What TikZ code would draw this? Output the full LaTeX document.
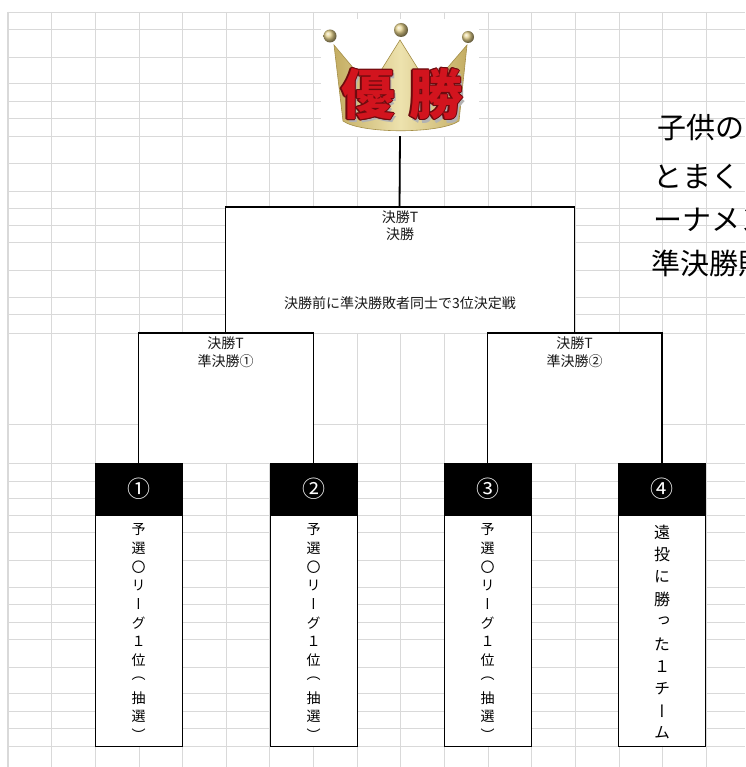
\documentclass[tikz,border=0pt]{standalone}
\usepackage{fontspec}
\newfontfamily\jp{Noto Sans CJK JP}
\newfontfamily\jpv[RawFeature=+vert]{Noto Sans CJK JP}
\usetikzlibrary{calc}
\definecolor{gridgray}{HTML}{D9D9D9}
\definecolor{crownA}{HTML}{C4AD62}
\definecolor{crownB}{HTML}{EDE2AE}
\definecolor{crownC}{HTML}{A58F48}
\definecolor{ballC}{HTML}{E3D08A}
\definecolor{yred}{HTML}{D2141E}
\definecolor{yedge}{HTML}{6E0A0E}
\begin{document}
\begin{tikzpicture}[x=1pt,y=-1pt,
  gridline/.style={draw=gridgray,line width=0.9pt},
  bracket/.style={draw=black,line width=1.8pt},
  bracketbox/.style={rectangle,fill=white,draw=none,inner sep=0pt},
  headbox/.style={rectangle,fill=black,draw=black,line width=0.8pt,minimum width=87pt,minimum height=52pt,inner sep=0pt,text=white,font=\jp\fontsize{23}{23}\selectfont},
  bodybox/.style={rectangle,fill=white,draw=black,line width=1pt,minimum width=87pt,minimum height=231pt,inner sep=0pt,anchor=north},
  lbl/.style={inner sep=0pt,align=center,font=\jp\fontsize{14}{17}\selectfont,text=black!90},
  lbls/.style={inner sep=0pt,align=center,font=\jp\fontsize{14}{18.4}\selectfont,text=black!90},
  vch/.style={inner sep=0pt,font=\jpv\fontsize{14}{14}\selectfont},
  vchb/.style={inner sep=0pt,font=\jpv\fontsize{16}{16}\selectfont},
  side/.style={inner sep=0pt,anchor=west,font=\jp\fontsize{29}{29}\selectfont},
  yu/.style={inner sep=0pt,font=\jp\bfseries\fontsize{54}{54}\selectfont}
]
\useasboundingbox (0,0) rectangle (745,767);
\fill[white] (0,0) rectangle (745,767);
% spreadsheet grid
\foreach \k in {0,...,16} \draw[gridline] ({8+43.65*\k},12) -- ({8+43.65*\k},767);
\foreach \yy in {12,29,57,83,101,118,136,163,191,208,225,242,270,297,314,333,424,463,481,498,515,532,560,587,604,622,639,667,693,711,728,746}
  \draw[gridline] (8,\yy) -- (745,\yy);
\draw[draw=gridgray,line width=1.4pt] (8,12) -- (8,767);
% crown picture
\fill[white] (321,19) rectangle (479,136);
\node[inner sep=0pt,minimum width=158pt,minimum height=117pt] (crown) at (400,77.5) {};
\shade[left color=crownA, right color=crownA, middle color=crownB, draw=crownC, line width=0.6pt]
  (334,45) -- (370,88) -- (400,40) -- (430,88) -- (467,45) -- (459,121)
  .. controls (440,134) and (361,134) .. (343,121) -- cycle;
\shade[ball color=ballC] (330,36) circle (6.5);
\shade[ball color=ballC] (401,30) circle (7);
\shade[ball color=ballC] (468,37) circle (6);
\foreach \cx/\ch [count=\j] in {368/優,436/勝}{
  \node[yu,text=black!30] (ys\j) at (\cx+2.5,97.5) {\ch};
  \foreach \dx/\dy [count=\i] in {-1.1/0,1.1/0,0/-1.1,0/1.1,-.8/-.8,.8/.8,-.8/.8,.8/-.8}
    \node[yu,text=yedge] (yo\j\i) at (\cx+\dx,94+\dy) {\ch};
  \node[yu,text=yred] (yc\j) at (\cx,94) {\ch};
}
% bracket boxes
\node[bracketbox,minimum width=349pt,minimum height=126pt] (f) at (399.5,270) {};
\node[bracketbox,minimum width=175pt,minimum height=130pt] (s1) at (225.5,398) {};
\node[bracketbox,minimum width=175pt,minimum height=130pt] (s2) at (574.5,398) {};
% team boxes
\foreach \n/\cx/\num in {1/138.5/①,2/313.5/②,3/487.5/③,4/662/④}{
  \node[headbox] (h\n) at (\cx,489) {\num};
  \node[bodybox] (b\n) at (h\n.south) {};
}
% connectors
\draw[bracket] (crown.south) -- (f.north);
\draw[bracket] (s1.north) |- (f.north) -| (s2.north);
\draw[bracket] (h1.north) |- (s1.north) -| (h2.north);
\draw[bracket] (h3.north) |- (s2.north) -| (h4.north);
% labels
\node[lbl,anchor=north] (lf) at (400,211) {決勝T\\決勝};
\node[lbl] (lf2) at (400,303) {決勝前に準決勝敗者同士で3位決定戦};
\node[lbls,anchor=north] (ls1) at (225.5,336.5) {決勝T\\準決勝①};
\node[lbls,anchor=north] (ls2) at (574.5,336.5) {決勝T\\準決勝②};
% vertical texts
\foreach \bx in {b1,b2,b3}{
  \foreach \c [count=\i] in {予,選,〇,リ,ー,グ,１,位,（,抽,選,）}
    \node[vch] (\bx c\i) at ($(\bx.north)+(0,{14+(\i-1)*18.7})$) {\c};
}
\foreach \c [count=\i] in {遠,投,に,勝,っ,た,１,チ,ー,ム}
  \node[vchb] (b4c\i) at ($(b4.north)+(0,{17+(\i-1)*22.3})$) {\c};
% side text (cut off by the page edge)
\node[side] (r1) at (657,128) {子供の};
\node[side] (r2) at (653,177) {とまく};
\node[side] (r3) at (653,220) {ーナメント};
\node[side] (r4) at (651,263) {準決勝敗者};
\end{tikzpicture}
\end{document}
